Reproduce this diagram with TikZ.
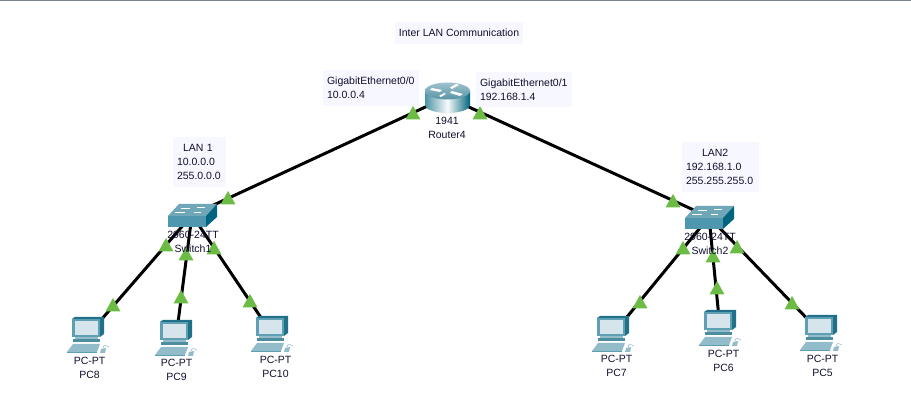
\documentclass[tikz,border=0pt]{standalone}
\usepackage{fontspec}
\setmainfont{Liberation Sans}
\usetikzlibrary{backgrounds}
\definecolor{txt}{HTML}{10102E}
\definecolor{notebg}{HTML}{F7F8FF}
\definecolor{topbar}{HTML}{7C848C}
\definecolor{tri}{HTML}{6CBB45}
\definecolor{swtop}{HTML}{6FA6B8}
\definecolor{swfront}{HTML}{4F97AE}
\definecolor{swside}{HTML}{00667F}
\definecolor{pcdark}{HTML}{1F7088}
\definecolor{pcmid}{HTML}{5E9FB3}
\definecolor{pclight}{HTML}{93BCCB}
\definecolor{pcscreen}{HTML}{D6E5EC}
\tikzset{
  x=1pt,y=-1pt,
  devicebox/.style={inner sep=0pt,outer sep=0pt,minimum width=#1,minimum height=30pt},
  link/.style={line width=3pt,black},
  lbl/.style={inner sep=0pt,text=txt,align=center,font=\fontsize{10.5}{14}\selectfont},
  notebox/.style={fill=notebg,inner sep=0pt,text=txt,align=left,font=\fontsize{10.5}{14}\selectfont},
  tribase/.pic={\fill[tri] (-7.5,6.5) -- (7.5,6.5) -- (0,-7) -- cycle;},
  switchpic/.pic={
    \fill[swtop] (-24,1) -- (-13,-11) -- (25,-11) -- (14,1) -- cycle;
    \fill[swfront] (-24,1) -- (14,1) -- (14,12) -- (-24,12) -- cycle;
    \fill[swside] (14,1) -- (25,-11) -- (25,2) -- (14,12) -- cycle;
    \draw[white,line width=.6pt] (-11,-7) -- (-2,-7) (5,-8) -- (13,-8) (-17,-3) -- (-7,-3) (2,-3) -- (9,-3);
  },
  routerpic/.pic={
    \shade[left color=swside!70!white,right color=swside,middle color=white!85!pcscreen]
      (-22,-6) -- (-22,8) arc[start angle=180,end angle=0,x radius=22.5,y radius=8] -- (23,-6) -- cycle;
    \shade[top color=pcscreen!70!pcdark,bottom color=pcdark!75!white] (0.5,-6) ellipse[x radius=22.5,y radius=8.5];
    \fill[white] (-15,-9) -- (-5,-7) -- (-7,-5) -- (-17,-7) -- cycle
      (12,-12) -- (5,-8) -- (3,-9.5) -- (9,-13) -- cycle
      (-8,-1) -- (-3,-4) -- (-1,-3) -- (-6,0) -- cycle
      (5,-6) -- (16,-3) -- (13,-1) -- (3,-4) -- cycle;
  },
  pcpic/.pic={
    \fill[pcdark] (-16,-16) -- (-13,-18) -- (16,-18) -- (16,-1) -- (12,2) -- (-16,2) -- cycle;
    \fill[pcmid] (-16,-16) -- (12,-16) -- (12,2) -- (-16,2) -- cycle;
    \fill[pcscreen] (-13,-14) -- (10,-14) -- (10,0) -- (-13,0) -- cycle;
    \fill[pclight] (-13,2) rectangle (10,4);
    \fill[pcdark!80!white] (-15,4) rectangle (12,7.5);
    \fill[pclight] (-21,17) -- (-15,9) -- (12,9) -- (9,17) -- cycle;
    \fill[pcmid] (-21,17) rectangle (9,18);
    \fill[pclight] (13,14) -- (18,13) -- (17,18) -- (12,18) -- cycle;
    \draw[pclight,line width=.6pt] (15,13) .. controls (15,10) and (18,10) .. (21,12);
  }
}
\begin{document}
\begin{tikzpicture}
\useasboundingbox (0,0) rectangle (911,419);
% devices
\node[devicebox=45pt] (router) at (447,97) {};
\node[devicebox=49pt] (sw1) at (192,215) {};
\node[devicebox=49pt] (sw2) at (709,217) {};
\node[devicebox=43pt] (pc8) at (88,335) {};
\node[devicebox=43pt] (pc9) at (176,338) {};
\node[devicebox=43pt] (pc10) at (272,334) {};
\node[devicebox=43pt] (pc7) at (613,334) {};
\node[devicebox=43pt] (pc6) at (720,328) {};
\node[devicebox=43pt] (pc5) at (821,333) {};
\begin{scope}[on background layer]
\fill[white] (0,0) rectangle (911,419);
\fill[topbar] (0,0) rectangle (911,1);
\draw[link] (router.center) -- (sw1.center);
\draw[link] (router.center) -- (sw2.center);
\draw[link] (sw1.center) -- (pc8.center);
\draw[link] (sw1.center) -- (pc9.center);
\draw[link] (sw1.center) -- (pc10.center);
\draw[link] (sw2.center) -- (pc7.center);
\draw[link] (sw2.center) -- (pc6.center);
\draw[link] (sw2.center) -- (pc5.center);
\end{scope}
% icons
\pic at (router.center) {routerpic};
\pic at (sw1.center) {switchpic};
\pic at (sw2.center) {switchpic};
\foreach \n in {pc8,pc9,pc10,pc7,pc6,pc5} {\pic at (\n.center) {pcpic};}
% link lights
\foreach \p in {(413,113),(228,198),(480,113),(673,201),(166,245),(186,254),(214,248),(683,248),(713,256),(737,247),(113,305),(181,297),(250,301),(640,302),(717,288),(792,303)} {\pic at \p {tribase};}
% notes
\node[notebox,minimum width=128pt,minimum height=22pt,align=center] (title) at (459,33) {Inter LAN Communication};
\node[notebox,minimum width=96pt,minimum height=36pt,text width=88pt] (note00) at (371,88) {GigabitEthernet0/0\\10.0.0.4};
\node[notebox,minimum width=96pt,minimum height=35pt,text width=88pt] (note01) at (524,90) {GigabitEthernet0/1\\192.168.1.4};
\node[notebox,minimum width=53pt,minimum height=50pt,text width=45pt] (lan1) at (199.5,162) {\hspace*{6pt}LAN 1\\10.0.0.0\\255.0.0.0};
\node[notebox,minimum width=77pt,minimum height=50pt,text width=69pt] (lan2) at (720.5,167) {\hspace*{16pt}LAN2\\192.168.1.0\\255.255.255.0};
% labels
\node[lbl] (lr) at (447,128) {1941\\Router4};
\node[lbl] (ls1) at (193,242) {2960-24TT\\Switch1};
\node[lbl] (ls2) at (710,244) {2960-24TT\\Switch2};
\node[lbl] (l8) at (89.5,368) {PC-PT\\PC8};
\node[lbl] (l9) at (176.5,370) {PC-PT\\PC9};
\node[lbl] (l10) at (275.5,367) {PC-PT\\PC10};
\node[lbl] (l7) at (616.5,366) {PC-PT\\PC7};
\node[lbl] (l6) at (723.5,361) {PC-PT\\PC6};
\node[lbl] (l5) at (822.5,366) {PC-PT\\PC5};
\end{tikzpicture}
\end{document}
